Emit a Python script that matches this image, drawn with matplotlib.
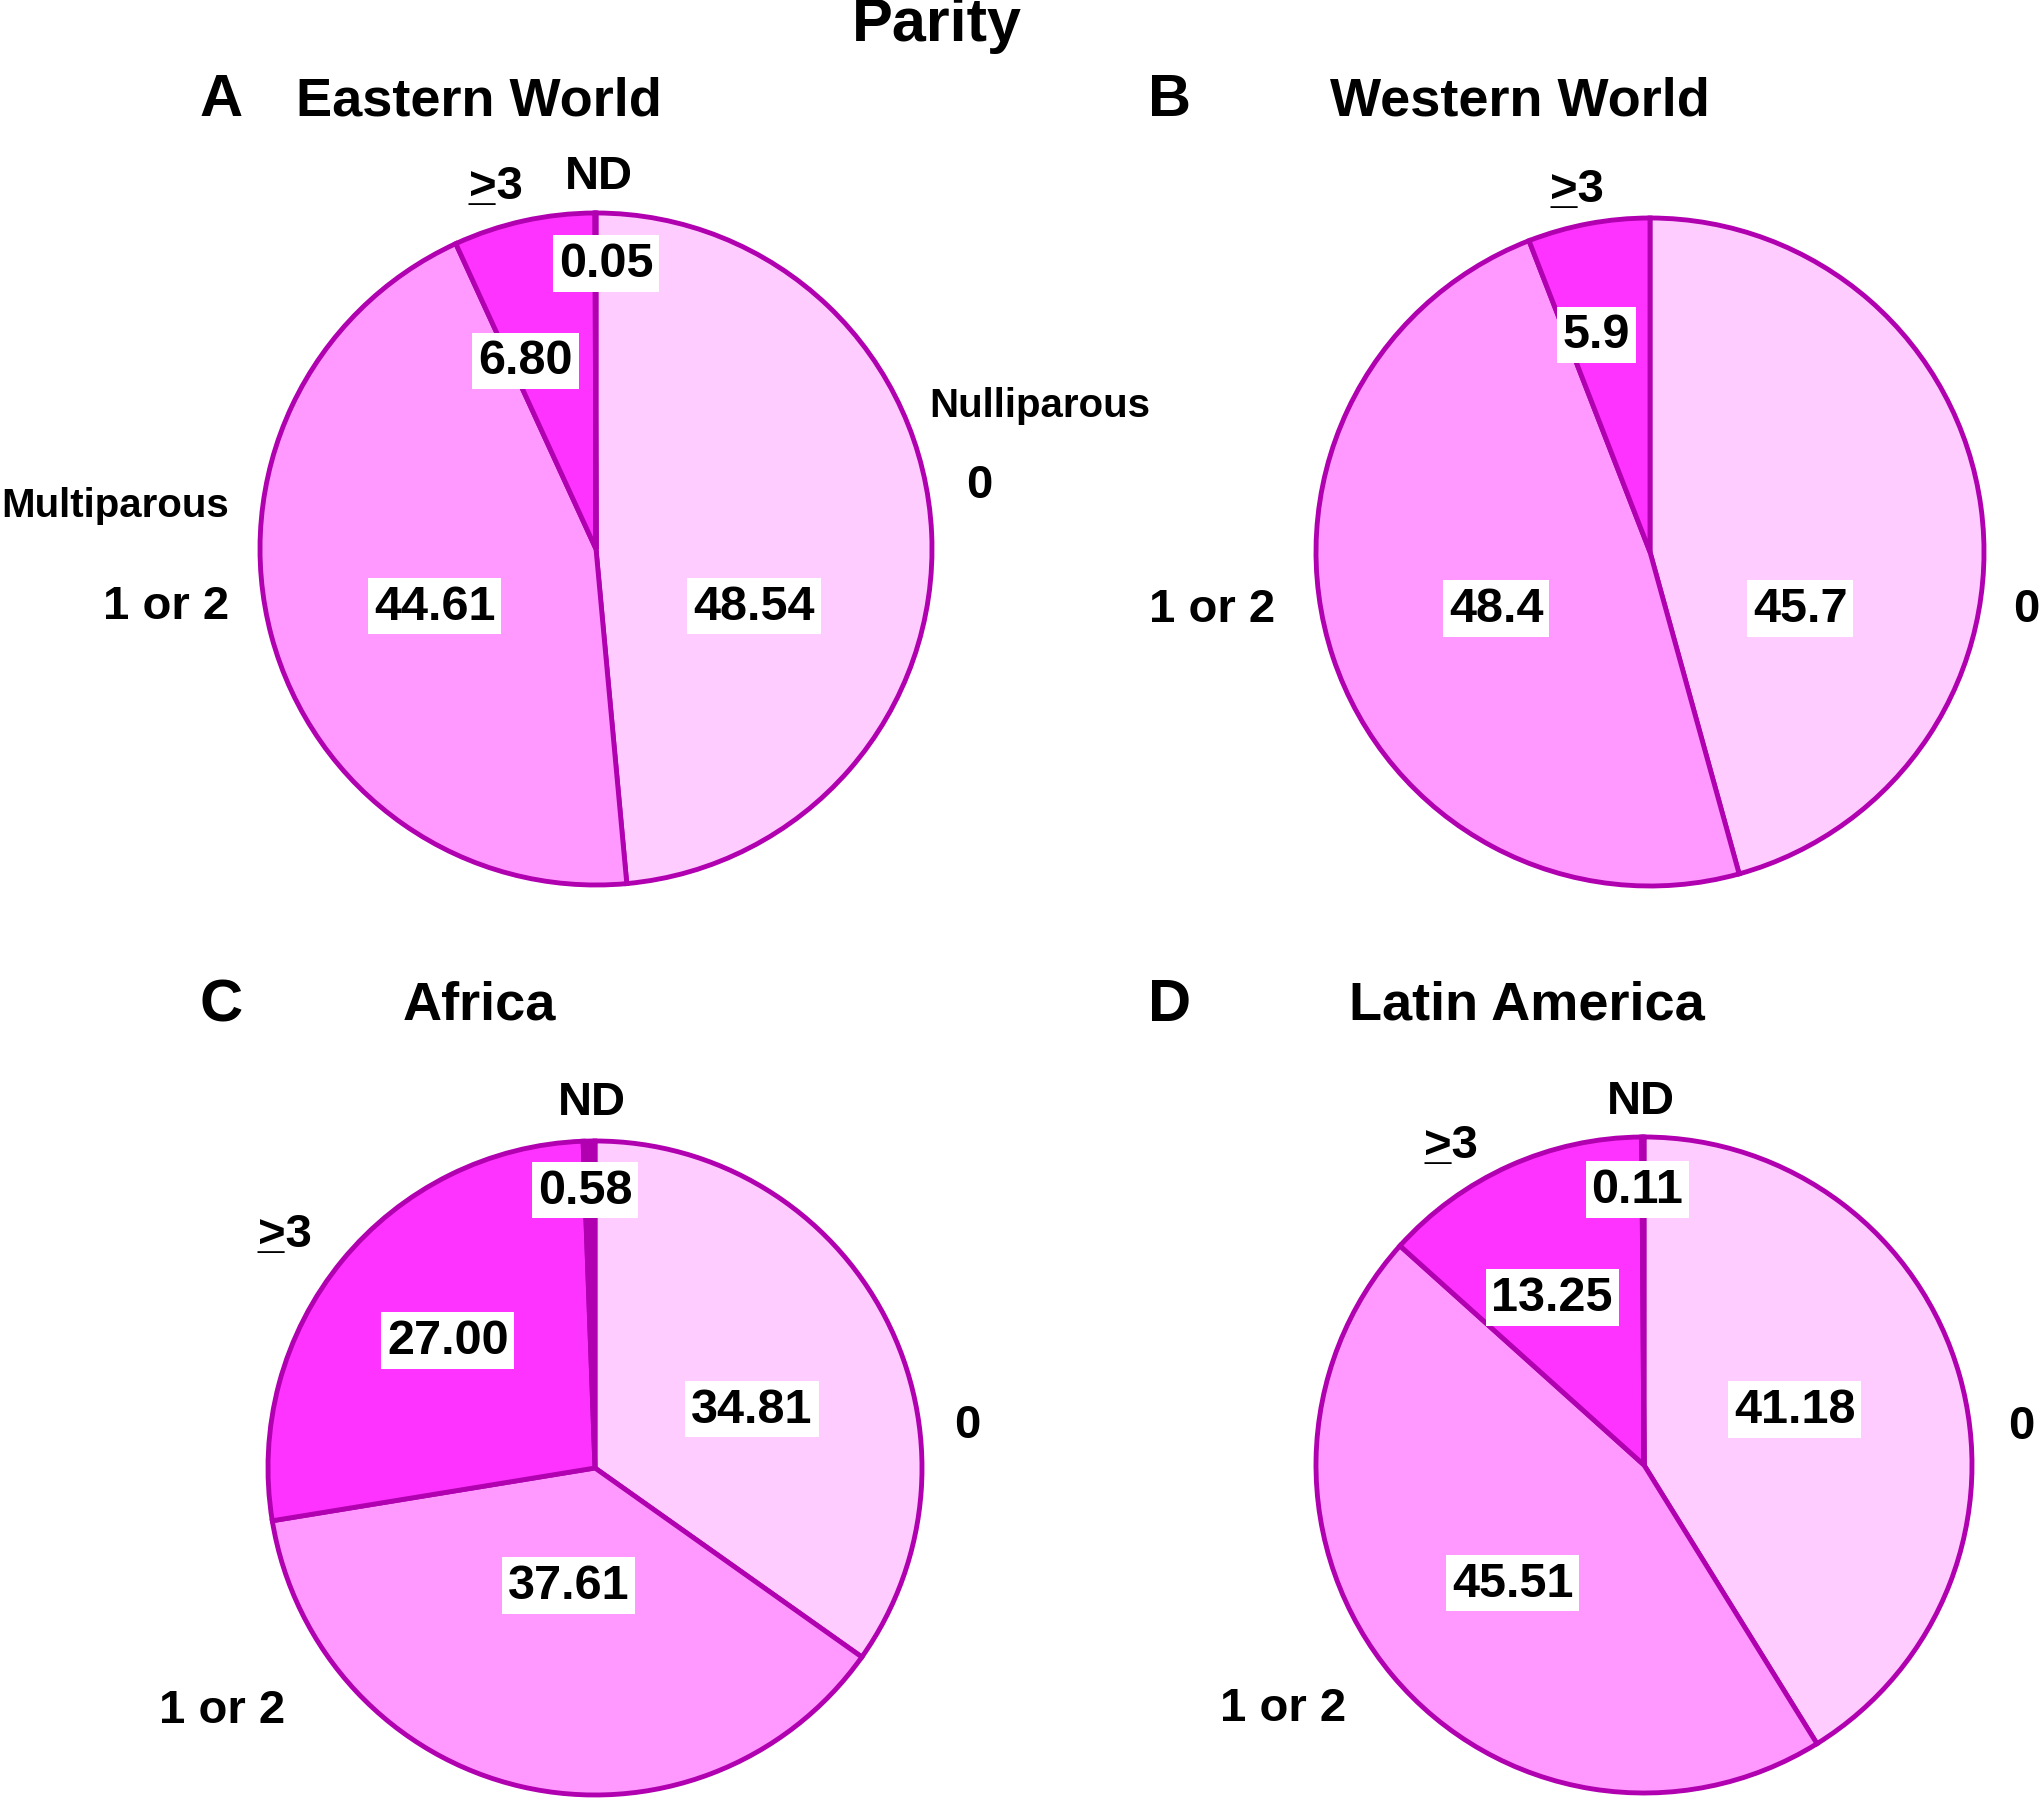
import matplotlib
matplotlib.use("Agg")
import matplotlib.pyplot as plt

plt.rcParams['font.family'] = ['Liberation Sans', 'DejaVu Sans']
plt.rcParams['font.weight'] = 'bold'

# data (percent of patients by parity)
eastern = [48.54, 44.61, 6.80, 0.05]
western = [45.7, 48.4, 5.9]
africa = [34.81, 37.61, 27.00, 0.58]
latin = [41.18, 45.51, 13.25, 0.11]
slice_names = ["0", "1 or 2", ">3", "ND"]
panel_titles = ["Eastern World", "Western World", "Africa", "Latin America"]
panel_letters = ["A", "B", "C", "D"]

SLICE_COLORS = ["#FFCCFF", "#FF99FF", "#FF33FF", "#B000B0"]
EDGE = "#B000B0"

W, H = 2040, 1799
fig = plt.figure(figsize=(W / 100, H / 100), dpi=100)

EXT = 1.6


def pie_axes(cx, cy, r):
    # square axes centred on (cx, cy) px, radius r px -> data radius 1
    half = EXT * r
    ax = fig.add_axes([(cx - half) / W, 1 - (cy + half) / H, 2 * half / W, 2 * half / H])
    ax.set_xlim(-EXT, EXT)
    ax.set_ylim(-EXT, EXT)
    ax.axis('off')
    return ax


def put_name(ax, x, y, name, size=34):
    if name == ">3":
        # underlined ">" as in the original: ">3" plus an underscore under the ">"
        for s in (">3", "_"):
            ax.annotate(s, (x, y), xytext=(-19, 0), textcoords='offset points',
                        ha='left', va='baseline', fontsize=size, fontweight='bold')
    else:
        ax.text(x, y, name, ha='center', va='center', fontsize=size, fontweight='bold')


# per panel: centre px, radius px, value label positions, slice name positions, decimals
panels = [
    dict(vals=eastern, c=(596, 550), r=336, dec=2,
         vpos=[(0.47, -0.17), (-0.48, -0.17), (-0.21, 0.56), (0.03, 0.85)],
         npos=[(1.14, 0.19), (-1.28, -0.17), (-0.30, 1.045), (0.01, 1.11)]),
    dict(vals=western, c=(1650, 553), r=334, dec=1,
         vpos=[(0.45, -0.17), (-0.46, -0.17), (-0.16, 0.65)],
         npos=[(1.126, -0.17), (-1.31, -0.17), (-0.22, 1.05)]),
    dict(vals=africa, c=(595, 1469), r=327, dec=2,
         vpos=[(0.48, 0.18), (-0.08, -0.36), (-0.45, 0.39), (-0.03, 0.85)],
         npos=[(1.14, 0.13), (-1.14, -0.74), (-0.95, 0.68), (-0.01, 1.12)]),
    dict(vals=latin, c=(1644, 1466), r=328, dec=2,
         vpos=[(0.46, 0.17), (-0.40, -0.36), (-0.28, 0.51), (-0.02, 0.84)],
         npos=[(1.15, 0.12), (-1.10, -0.74), (-0.59, 0.94), (-0.01, 1.11)]),
]

for p in panels:
    ax = pie_axes(p['c'][0], p['c'][1], p['r'])
    vals = p['vals']
    ax.pie(vals, colors=SLICE_COLORS[:len(vals)], startangle=90, counterclock=False,
           radius=1.0, wedgeprops=dict(edgecolor=EDGE, linewidth=3.5))
    ax.set_xlim(-EXT, EXT)
    ax.set_ylim(-EXT, EXT)
    for v, (x, y) in zip(vals, p['vpos']):
        ax.text(x, y, f"{v:.{p['dec']}f}", ha='center', va='center', fontsize=35,
                fontweight='bold', zorder=5,
                bbox=dict(boxstyle='square,pad=0.12', facecolor='white', edgecolor='none'))
    for name, (x, y) in zip(slice_names, p['npos']):
        put_name(ax, x, y, name)
    p['ax'] = ax

# extra group labels on panel A
axA = panels[0]['ax']
axA.text(1.32, 0.43, "Nulliparous", ha='center', va='center', fontsize=29, fontweight='bold')
axA.text(-1.43, 0.13, "Multiparous", ha='center', va='center', fontsize=29, fontweight='bold')

# titles
fig.text(937 / W, 1 - 25 / H, "Parity", ha='center', va='center', fontsize=44, fontweight='bold')
letter_px = [(221, 101), (1170, 101), (221, 1006), (1170, 1006)]
title_px = [(479, 101), (1520, 101), (479, 1006), (1527, 1006)]
for lt, (lx, ly), tt, (tx, ty) in zip(panel_letters, letter_px, panel_titles, title_px):
    fig.text(lx / W, 1 - ly / H, lt, ha='center', va='center', fontsize=43, fontweight='bold')
    fig.text(tx / W, 1 - ty / H, tt, ha='center', va='center', fontsize=39, fontweight='bold')

fig.savefig("out.png", dpi=100, facecolor='white')
